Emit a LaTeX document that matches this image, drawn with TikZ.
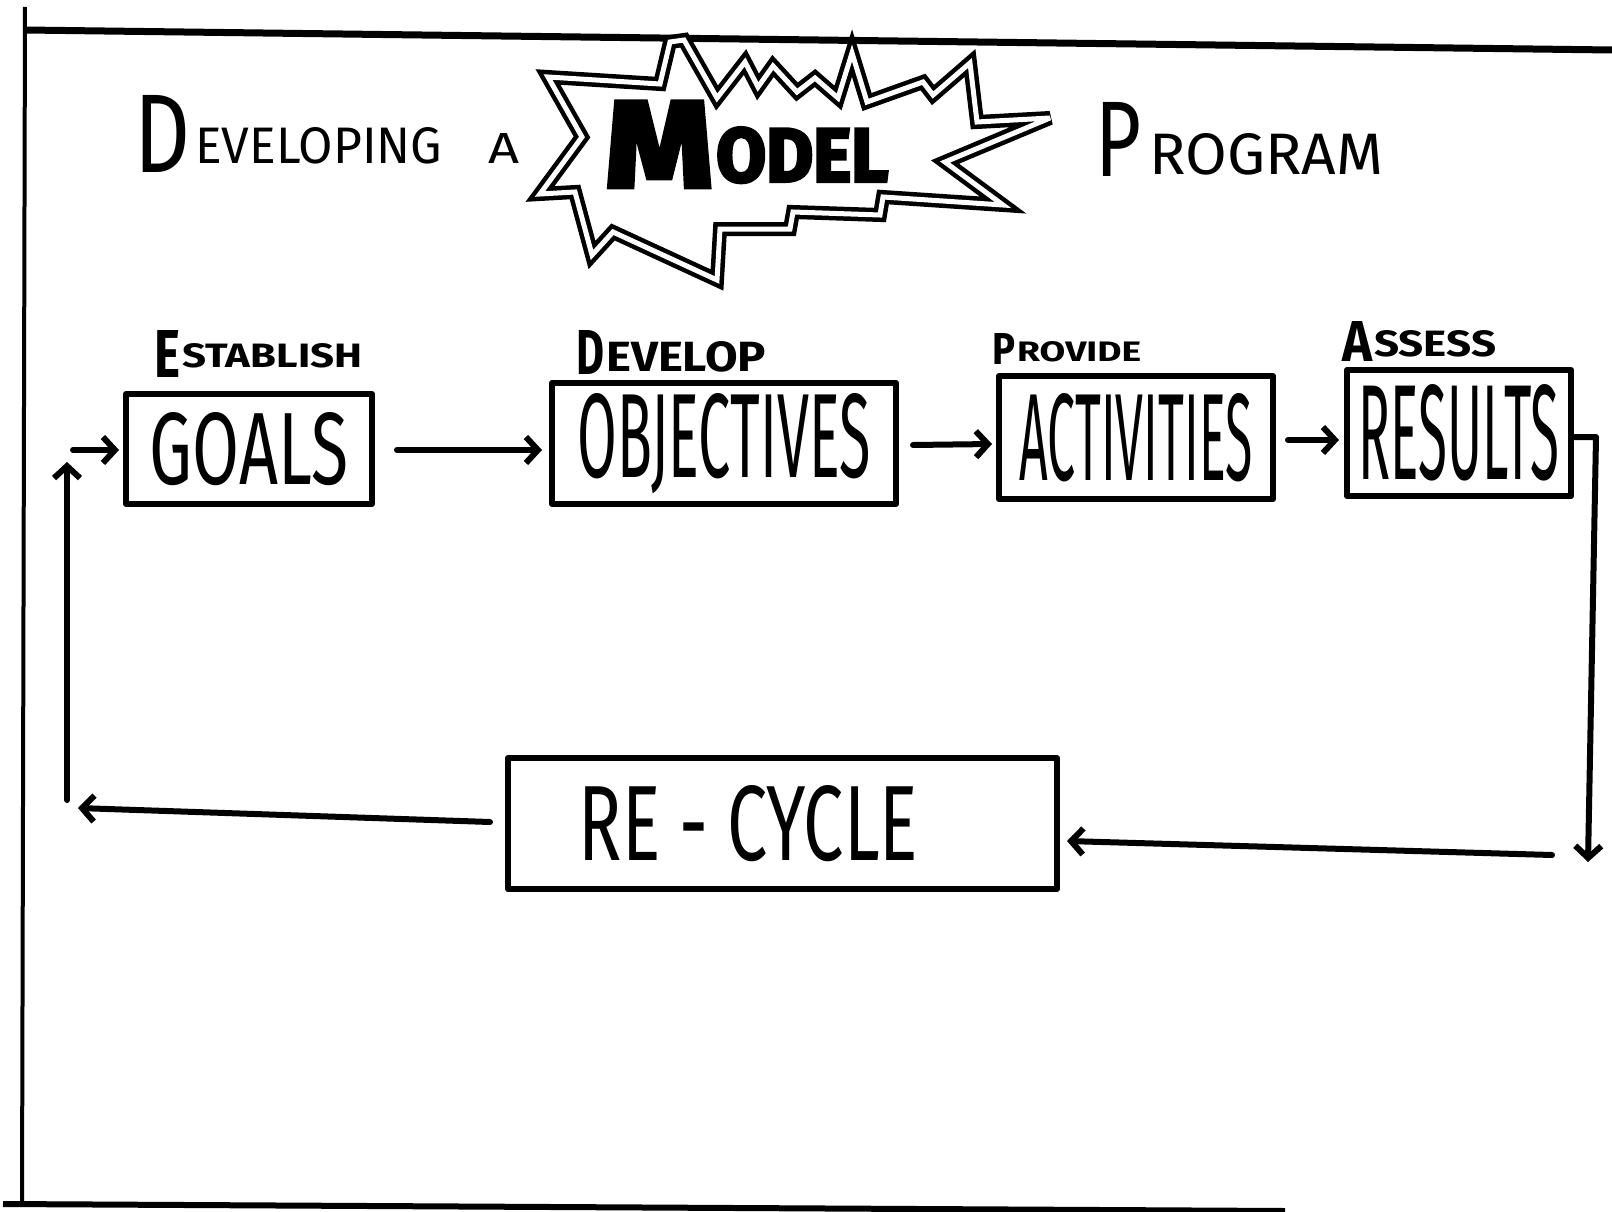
\documentclass[tikz,border=0pt]{standalone}
\usepackage{fontspec}
\setmainfont{Fira Sans}
\newfontfamily\heavyfont[FakeBold=4]{Fira Sans}
\usetikzlibrary{arrows.meta}
\begin{document}
\begin{tikzpicture}[x=1pt,y=-1pt,
  ink/.style={line width=6pt, line cap=round, line join=round},
  conn/.style={ink, -{Straight Barb[length=12pt,width=26pt]}},
  box/.style={draw, line width=6pt, line join=round, inner sep=0pt},
  lt/.style={inner sep=0pt, anchor=south west},
  frame/.style={line cap=butt}]
\fill[white] (0,0) rectangle (1612,1212);
\useasboundingbox (0,0) rectangle (1612,1212);
% frame
\draw[frame, line width=4pt] (25,7) -- (22,1206);
\draw[frame, line width=7pt] (25,30) -- (1612,50);
\draw[frame, line width=6pt] (3,1204) -- (1285,1211);
% title
\node[lt] (tD) at (134,173) {\resizebox{56pt}{77pt}{D}};
\node[lt] (tEv) at (195,164) {\resizebox{247pt}{36pt}{EVELOPING}};
\node[lt] (tA) at (488,164) {\resizebox{31pt}{30pt}{A}};
\node[lt] (tP) at (1095,177) {\resizebox{46pt}{74pt}{P}};
\node[lt] (tRo) at (1149,175) {\resizebox{234pt}{41pt}{ROGRAM}};
% star
\draw[line width=4.5pt, double=white, double distance=5pt, line join=miter, miter limit=4]
 (548,77) -- (660,84) -- (670,42) -- (684,40) -- (717,98) -- (745,62) -- (758,87)
 -- (773,66) -- (797,92) -- (815,78) -- (838,98) -- (852,53) -- (867,102) -- (923,82)
 -- (933,95) -- (970,63) -- (977,122) -- (1050,118) -- (945,162) -- (1003,205)
 -- (883,197) -- (880,215) -- (793,212) -- (790,229) -- (720,229) -- (717,280)
 -- (613,232) -- (592,255) -- (575,192) -- (540,194) -- (582,137) -- cycle;
\node[lt] (tM) at (605,187) {\resizebox{108pt}{85pt}{\heavyfont\bfseries M}};
\node[lt] (tOdel) at (716,183) {\resizebox{172pt}{54pt}{\heavyfont\bfseries ODEL}};
% labels
\node[lt] (lE) at (154,378) {\resizebox{26pt}{47pt}{\bfseries E}};
\node[lt] (lStab) at (182,368) {\resizebox{180pt}{24pt}{\bfseries STABLISH}};
\node[lt] (lD) at (576,375) {\resizebox{28pt}{44pt}{\bfseries D}};
\node[lt] (lEvel) at (606,372) {\resizebox{160pt}{30pt}{\bfseries EVELOP}};
\node[lt] (lP) at (992,365) {\resizebox{23pt}{31pt}{\bfseries P}};
\node[lt] (lRov) at (1017,362) {\resizebox{124pt}{20pt}{\bfseries ROVIDE}};
\node[lt] (lA) at (1342,362) {\resizebox{30pt}{40pt}{\bfseries A}};
\node[lt] (lSs) at (1374,357) {\resizebox{122pt}{26pt}{\bfseries SSESS}};
% boxes
\node[box, minimum width=246pt, minimum height=110pt] (goals) at (249,449)
  {\resizebox{198pt}{72pt}{GOALS}};
\node[box, minimum width=344pt, minimum height=121pt] (obj) at (724,443.5)
  {\resizebox{293pt}{84pt}{OBJECTIVES}};
\node[box, minimum width=274pt, minimum height=123pt] (act) at (1136,437.5)
  {\resizebox{233pt}{87pt}{ACTIVITIES}};
\node[box, minimum width=224pt, minimum height=126pt] (res) at (1459,433)
  {\resizebox{201pt}{95pt}{RESULTS}};
\node[box, minimum width=549pt, minimum height=131pt] (recyc) at (782.5,823.5)
  {\resizebox{339pt}{75pt}{RE - CYCLE}\hspace*{68pt}};
% connectors
\coordinate (rdown) at (1588,862);
\coordinate (rstart) at (1552,855);
\coordinate (lend) at (78,808);
\coordinate (ubot) at (67,800);
\coordinate (utop) at (67,462);
\coordinate (sstart) at (73,450);
\draw[conn] ([shift={(22,1)}]goals.east) -- ([shift={(-7,6.5)}]obj.west);
\draw[conn] ([shift={(14,1.5)}]obj.east) -- ([shift={(-4,6.5)}]act.west);
\draw[conn] ([shift={(12,2.5)}]act.east) -- ([shift={(-5,7)}]res.west);
\draw[conn] ([shift={(0,4)}]res.east) -- ++(22,0) -- (rdown);
\draw[conn] (rstart) -- ([shift={(7,17.5)}]recyc.east);
\draw[conn] ([shift={(-15,-1.5)}]recyc.west) -- (lend);
\draw[conn] (ubot) -- (utop);
\draw[conn] (sstart) -- ([shift={(-4,1)}]goals.west);
\end{tikzpicture}
\end{document}
